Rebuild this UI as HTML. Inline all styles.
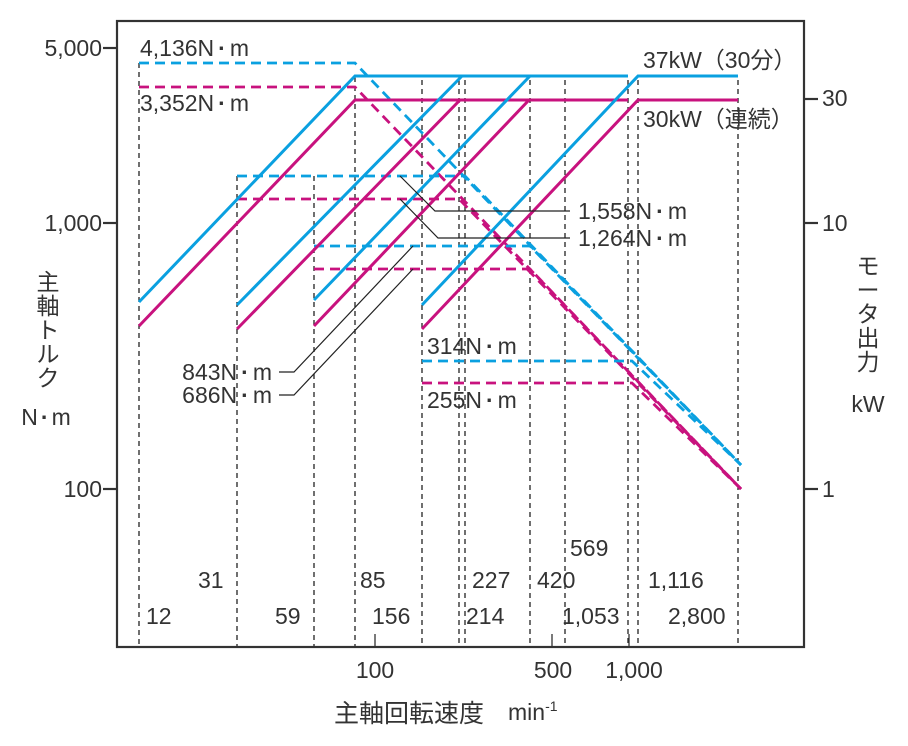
<!DOCTYPE html>
<html><head><meta charset="utf-8"><style>
html,body{margin:0;padding:0;background:#fff}
svg{display:block}
text{font-family:"Liberation Sans","Noto Sans CJK JP",sans-serif;fill:#333;font-size:23px}
.d{font-weight:bold}
</style></head><body>
<svg width="908" height="746" viewBox="0 0 908 746" xmlns="http://www.w3.org/2000/svg">
<rect x="0" y="0" width="908" height="746" fill="#fff"/>
<g stroke="#222" stroke-width="1.3" stroke-dasharray="5,4" fill="none">
<line x1="139" y1="63" x2="139" y2="647"/>
<line x1="237" y1="176" x2="237" y2="647"/>
<line x1="314" y1="176" x2="314" y2="647"/>
<line x1="355" y1="77" x2="355" y2="647"/>
<line x1="422" y1="80" x2="422" y2="647"/>
<line x1="459" y1="80" x2="459" y2="647"/>
<line x1="465" y1="80" x2="465" y2="647"/>
<line x1="530" y1="80" x2="530" y2="647"/>
<line x1="565" y1="80" x2="565" y2="647"/>
<line x1="628" y1="80" x2="628" y2="647"/>
<line x1="638" y1="80" x2="638" y2="647"/>
<line x1="738" y1="80" x2="738" y2="647"/>
</g>
<g fill="none" stroke-width="2.8" stroke-dasharray="10,6">
<polyline stroke="#0aa0e0" points="139,63 355,63 741,465"/>
<polyline stroke="#c8127e" points="139,87 355,87 741,489"/>
<polyline stroke="#0aa0e0" points="237,176 465,176 741,465"/>
<polyline stroke="#c8127e" points="237,199 459,199 741,489"/>
<polyline stroke="#0aa0e0" points="314,246 530,246 741,465"/>
<polyline stroke="#c8127e" points="314,269 530,269 741,489"/>
<polyline stroke="#0aa0e0" points="422,361 632,361 741,465"/>
<polyline stroke="#c8127e" points="422,383 632,383 741,489"/>
</g>
<g fill="none" stroke-width="3">
<polyline stroke="#0aa0e0" points="139,302 355,76 628,76"/>
<polyline stroke="#c8127e" points="139,326 355,100 628,100"/>
<polyline stroke="#0aa0e0" points="237,305 462,76"/>
<polyline stroke="#c8127e" points="237,329 460,100"/>
<polyline stroke="#0aa0e0" points="314,300 530,76"/>
<polyline stroke="#c8127e" points="314,326 529,100"/>
<polyline stroke="#0aa0e0" points="422,305 638,76 738,76"/>
<polyline stroke="#c8127e" points="422,329 638,100 738,100"/>
</g>
<g fill="none" stroke="#222" stroke-width="1.2">
<polyline points="400,176 435,211 570,211"/>
<polyline points="400,199 438,238 570,238"/>
<polyline points="413,246 294,372 279,372"/>
<polyline points="413,269 294,395 279,395"/>
</g>
<g stroke="#333" stroke-width="2.2" fill="none">
<rect x="117" y="21" width="687" height="626"/>
<line x1="103" y1="48" x2="117" y2="48"/>
<line x1="103" y1="223" x2="117" y2="223"/>
<line x1="103" y1="489" x2="117" y2="489"/>
<line x1="804" y1="99" x2="818" y2="99"/>
<line x1="804" y1="223" x2="818" y2="223"/>
<line x1="804" y1="489" x2="818" y2="489"/>
</g>
<g stroke="#333" stroke-width="1.3">
<line x1="375" y1="647" x2="375" y2="634"/>
<line x1="552" y1="647" x2="552" y2="634"/>
<line x1="629" y1="647" x2="629" y2="634"/>
</g>
<g text-anchor="end">
<text x="102" y="56">5,000</text>
<text x="102" y="231">1,000</text>
<text x="102" y="497">100</text>
</g>
<text x="822" y="106">30</text>
<text x="822" y="231">10</text>
<text x="822" y="497">1</text>
<g text-anchor="middle">
<text x="375" y="678">100</text>
<text x="553" y="678">500</text>
<text x="634" y="678">1,000</text>
</g>
<text x="334" y="722" style="font-size:25px">主軸回転速度</text>
<text x="508" y="720">min<tspan dy="-9" style="font-size:14px">-1</tspan></text>
<g text-anchor="middle">
<text x="48" y="290">主</text>
<text x="48" y="314">軸</text>
<text x="48" y="338">ト</text>
<text x="48" y="362">ル</text>
<text x="48" y="386">ク</text>
<text x="46" y="425">N<tspan class="d" dx="3">·</tspan><tspan dx="3">m</tspan></text>
<text x="868" y="274">モ</text>
<text x="868" y="298">ー</text>
<text x="868" y="322">タ</text>
<text x="868" y="346">出</text>
<text x="868" y="370">力</text>
<text x="868" y="412">kW</text>
</g>
<text x="140" y="56">4,136N<tspan class="d" dx="4">·</tspan><tspan dx="4">m</tspan></text>
<text x="140" y="111">3,352N<tspan class="d" dx="4">·</tspan><tspan dx="4">m</tspan></text>
<text x="643" y="68">37kW（30分）</text>
<text x="643" y="127">30kW（連続）</text>
<text x="578" y="219">1,558N<tspan class="d" dx="4">·</tspan><tspan dx="4">m</tspan></text>
<text x="578" y="246">1,264N<tspan class="d" dx="4">·</tspan><tspan dx="4">m</tspan></text>
<text x="272" y="380" text-anchor="end">843N<tspan class="d" dx="4">·</tspan><tspan dx="4">m</tspan></text>
<text x="272" y="403" text-anchor="end">686N<tspan class="d" dx="4">·</tspan><tspan dx="4">m</tspan></text>
<text x="427" y="354">314N<tspan class="d" dx="4">·</tspan><tspan dx="4">m</tspan></text>
<text x="427" y="408">255N<tspan class="d" dx="4">·</tspan><tspan dx="4">m</tspan></text>
<text x="146" y="624">12</text>
<text x="275" y="624">59</text>
<text x="372" y="624">156</text>
<text x="466" y="624">214</text>
<text x="562" y="624">1,053</text>
<text x="668" y="624">2,800</text>
<text x="198" y="588">31</text>
<text x="360" y="588">85</text>
<text x="472" y="588">227</text>
<text x="537" y="588">420</text>
<text x="648" y="588">1,116</text>
<text x="570" y="556">569</text>
</svg>
</body></html>
